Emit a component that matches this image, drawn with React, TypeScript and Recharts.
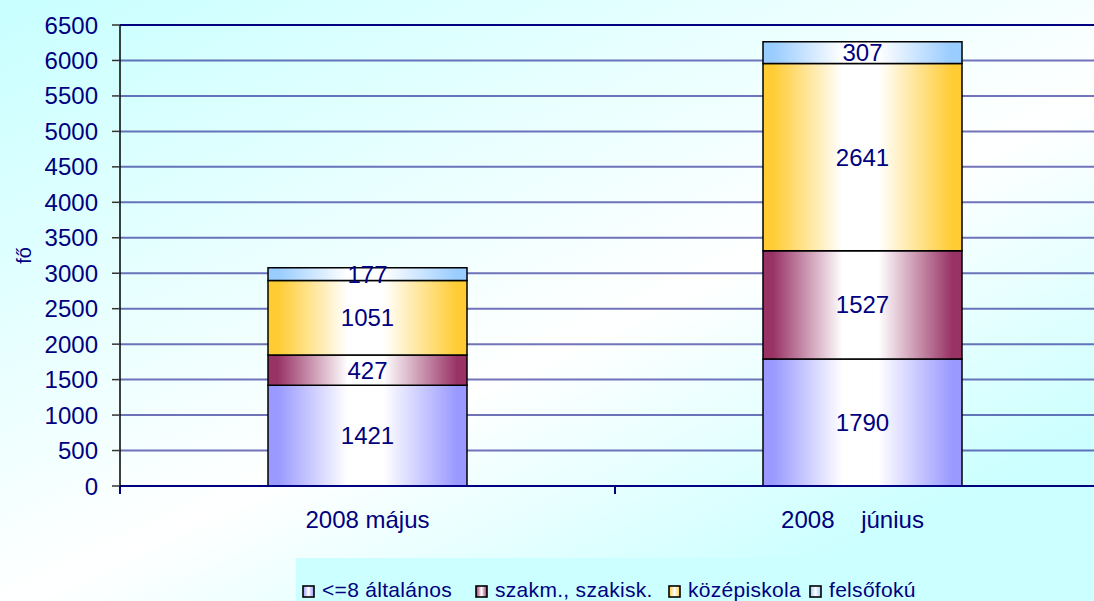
import React from 'react';
import { BarChart, Bar, XAxis, YAxis, CartesianGrid, LabelList, Legend, ReferenceLine } from 'recharts';

const categories = ['2008 május', '2008    június   '];
const altalanos = [1421, 1790];
const szakm = [427, 1527];
const kozep = [1051, 2641];
const felso = [177, 307];
const yTicks = [0, 500, 1000, 1500, 2000, 2500, 3000, 3500, 4000, 4500, 5000, 5500, 6000, 6500];

const seriesNames = ['<=8 általános', 'szakm., szakisk.', 'középiskola', 'felsőfokú'];
const seriesKeys = ['altalanos', 'szakm', 'kozep', 'felso'];
const seriesColors = ['#9999ff', '#993366', '#ffcc33', '#99ccff'];

const data = categories.map((c, i) => ({
  month: c,
  altalanos: altalanos[i],
  szakm: szakm[i],
  kozep: kozep[i],
  felso: felso[i],
}));

const NAVY = '#000080';
const FONT = 'Arial, "Liberation Sans", sans-serif';
const legendSlotWidths = [173, 193, 141, 160];

const XTick = (props: any) => {
  const { x, y, payload, width } = props;
  const band = width / categories.length;
  return (
    <g>
      <line x1={x - band / 2} x2={x - band / 2} y1={y} y2={y + 8} stroke={NAVY} strokeWidth={2} />
      <line x1={x + band / 2} x2={x + band / 2} y1={y} y2={y + 8} stroke={NAVY} strokeWidth={2} />
      <text x={x} y={y + 42} textAnchor="middle" fill={NAVY} fontSize={24} fontFamily={FONT} style={{ whiteSpace: 'pre' }}>
        {payload.value}
      </text>
    </g>
  );
};

const LegendContent = () => (
  <div
    style={{
      background: '#ccffff',
      width: 798,
      height: 43,
      boxSizing: 'border-box',
      paddingLeft: 6,
      paddingTop: 21,
      display: 'flex',
      fontFamily: FONT,
      fontSize: 21,
      color: NAVY,
      lineHeight: '22px',
      whiteSpace: 'pre',
    }}
  >
    {seriesNames.map((n, i) => (
      <div key={n} style={{ display: 'flex', alignItems: 'center', width: legendSlotWidths[i], flex: 'none' }}>
        <svg width={13} height={13} style={{ marginRight: 7, marginTop: 3 }}>
          <rect x={1} y={1} width={11} height={11} fill={`url(#lg${i})`} stroke="#000" strokeWidth={1.6} />
        </svg>
        <span style={{ letterSpacing: 0.3 }}>{n}</span>
      </div>
    ))}
  </div>
);

export default function App() {
  return (
    <div
      style={{
        position: 'absolute',
        left: 0,
        top: 0,
        width: 1094,
        height: 601,
        overflow: 'hidden',
        background: 'linear-gradient(155deg, #c8ffff 0%, #ffffff 55%, #ccffff 85%, #ccffff 100%)',
      }}
    >
      <BarChart
        width={1120}
        height={601}
        data={data}
        margin={{ top: 25, right: 10, bottom: 22, left: 0 }}
      >
        <defs>
          {seriesColors.map((c, i) => (
            <linearGradient key={i} id={`g${i}`} x1="0" y1="0" x2="1" y2="0">
              <stop offset="0%" stopColor={c} />
              <stop offset="5%" stopColor={c} />
              <stop offset="40%" stopColor="#ffffff" />
              <stop offset="58%" stopColor="#ffffff" />
              <stop offset="95%" stopColor={c} />
              <stop offset="100%" stopColor={c} />
            </linearGradient>
          ))}
          {seriesColors.map((c, i) => (
            <linearGradient key={'l' + i} id={`lg${i}`} x1="0" y1="0" x2="1" y2="0">
              <stop offset="0%" stopColor={c} />
              <stop offset="50%" stopColor="#ffffff" />
              <stop offset="100%" stopColor={c} />
            </linearGradient>
          ))}
        </defs>
        <CartesianGrid horizontal vertical={false} stroke={NAVY} strokeOpacity={0.55} strokeWidth={2} />
        <ReferenceLine y={6500} stroke={NAVY} strokeWidth={2} />
        <XAxis
          dataKey="month"
          axisLine={{ stroke: NAVY, strokeWidth: 2 }}
          tickLine={false}
          tickSize={0}
          tickMargin={0}
          height={50}
          tick={<XTick />}
          interval={0}
        />
        <YAxis
          domain={[0, 6500]}
          ticks={yTicks}
          interval={0}
          width={120}
          axisLine={{ stroke: '#000', strokeWidth: 1.5 }}
          tickLine={{ stroke: '#333', strokeWidth: 1.5 }}
          tickSize={8}
          tickMargin={14}
          tick={{ fill: NAVY, fontSize: 24, fontFamily: FONT }}
          label={{ value: 'fő', angle: -90, position: 'insideLeft', offset: 24, fill: NAVY, fontSize: 20, fontFamily: FONT, textAnchor: 'middle' }}
        />
        <Legend
          verticalAlign="bottom"
          content={<LegendContent />}
          wrapperStyle={{ position: 'absolute', left: 296, top: 558, width: 798, height: 43 }}
        />
        {seriesKeys.map((k, i) => (
          <Bar
            key={k}
            dataKey={k}
            name={seriesNames[i]}
            stackId="a"
            fill={`url(#g${i})`}
            stroke="#000"
            strokeWidth={1.5}
            barSize={199}
            isAnimationActive={false}
          >
            <LabelList dataKey={k} position="center" fill={NAVY} fontSize={24} fontFamily={FONT} />
          </Bar>
        ))}
      </BarChart>
    </div>
  );
}
